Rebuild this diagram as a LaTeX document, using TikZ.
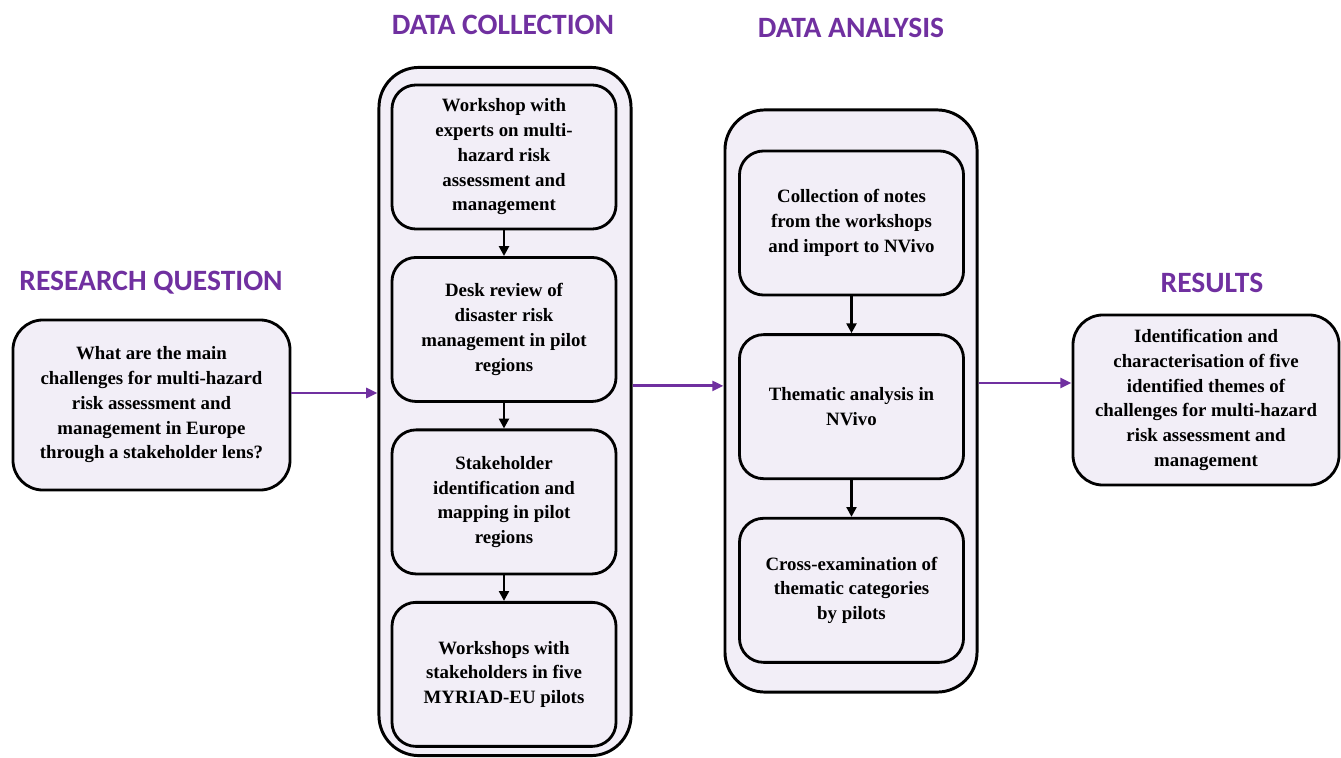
\documentclass[tikz,border=0pt]{standalone}
\usepackage{fontspec}
\setmainfont{Liberation Serif}
\newfontfamily\titlefont{Carlito}
\usepackage{xcolor}
\usepackage{tikz}
\usetikzlibrary{positioning,arrows.meta}

\definecolor{boxfill}{HTML}{F2EEF7}
\definecolor{mpurple}{HTML}{7030A0}
\newcommand{\boxfont}{\fontsize{13.4}{17.6}\selectfont\bfseries}

\begin{document}
\begin{tikzpicture}[x=0.025cm, y=-0.025cm,
  outer/.style={draw, line width=2.1pt, fill=boxfill, rounded corners=1cm, minimum width=6.3cm},
  stage/.style={draw, line width=2pt, fill=boxfill, rounded corners=0.6cm, minimum width=5.6cm, minimum height=3.6cm, align=center, font=\boxfont},
  heading/.style={font=\titlefont\fontsize{21}{25}\selectfont\bfseries, text=mpurple},
  flow/.style={-{Triangle[length=8pt,width=7pt]}, line width=2pt, draw=mpurple, fill=mpurple},
  down/.style={-{Triangle[length=7pt,width=7pt]}, line width=2pt}]
\useasboundingbox (0,0) rectangle (1341,757);

% headings
\node (rqTitle) [heading] at (151,283) {RESEARCH QUESTION};
\node (dcTitle) [heading] at (503,25) {DATA COLLECTION};
\node (daTitle) [heading] at (851,28) {DATA ANALYSIS};
\node (resTitle) [heading] at (1212,283) {RESULTS};

% research question and results
\node (rqBox) [stage, minimum width=6.925cm, minimum height=4.25cm, rounded corners=0.75cm] at (151.5,405)
  {What are the main\\challenges for multi-hazard\\risk assessment and\\management in Europe\\through a stakeholder lens?};
\node (resBox) [stage, minimum width=6.65cm, minimum height=4.25cm, rounded corners=0.75cm] at (1206,400)
  {Identification and\\characterisation of five\\identified themes of\\challenges for multi-hazard\\risk assessment and\\management};

% data collection
\node (dcOut) [outer, minimum height=17.2cm] at (505,411.5) {};
\node (dcA) [stage] at (504,157) {Workshop with\\experts on multi-\\hazard risk\\assessment and\\management};
\node (dcB) [stage, below=0.64cm of dcA] {Desk review of\\disaster risk\\management in pilot\\regions};
\node (dcC) [stage, below=0.64cm of dcB] {Stakeholder\\identification and\\mapping in pilot\\regions};
\node (dcD) [stage, below=0.64cm of dcC] {Workshops with\\stakeholders in five\\MYRIAD-EU pilots};

% data analysis
\node (daOut) [outer, minimum height=14.55cm] at (851,401) {};
\node (daA) [stage] at (851.5,223) {Collection of notes\\from the workshops\\and import to NVivo};
\node (daB) [stage, below=0.92cm of daA] {Thematic analysis in\\NVivo};
\node (daC) [stage, below=0.92cm of daB] {Cross-examination of\\thematic categories\\by pilots};

\draw[down] (dcA) -- (dcB);
\draw[down] (dcB) -- (dcC);
\draw[down] (dcC) -- (dcD);
\draw[down] (daA) -- (daB);
\draw[down] (daB) -- (daC);

\draw[flow] ([yshift=3mm]rqBox.east) coordinate (rqOut) -- (rqOut -| dcOut.west);
\draw[flow] ([yshift=6.4mm]dcOut.east) coordinate (dcExit) -- (dcExit -| daOut.west);
\draw[flow] ([yshift=4.5mm]daOut.east) coordinate (daExit) -- (daExit -| resBox.west);
\end{tikzpicture}
\end{document}
